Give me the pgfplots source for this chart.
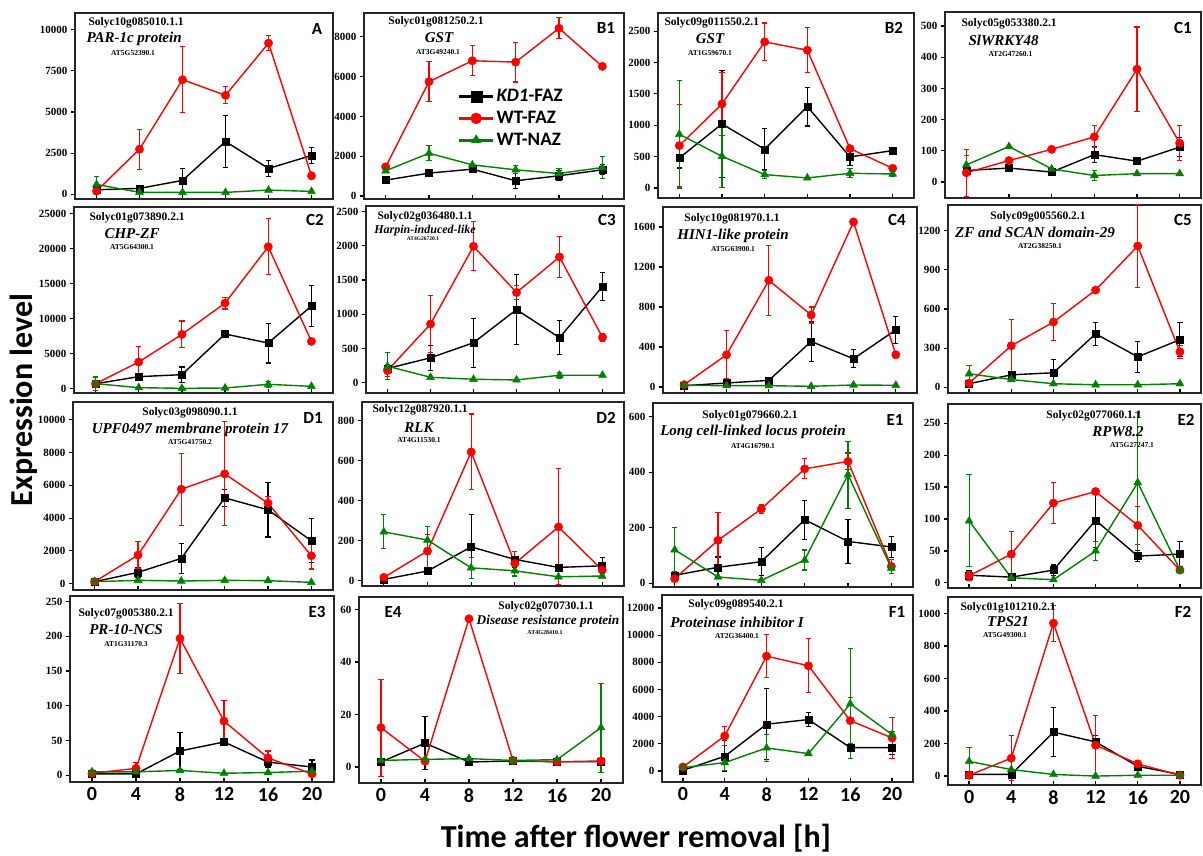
\documentclass[border=0pt]{standalone}
\usepackage{pgfplots}
\pgfplotsset{compat=1.18}
\usepackage{fontspec}
\setmainfont{Liberation Serif}
\newfontfamily\sans{Carlito}
\definecolor{grn}{RGB}{0,128,0}
\newcommand\gid{\fontsize{11.5}{12}\selectfont\bfseries}
\newcommand\gname{\fontsize{15}{16}\selectfont\bfseries\itshape}
\newcommand\atid{\fontsize{7.5}{8}\selectfont\bfseries}
\newcommand\plab{\sans\fontsize{17}{18}\selectfont\bfseries}
\pgfplotsset{
 pnl/.style n args={4}{scale only axis, anchor=north west, at={(#1pt,-#2pt)}, width=#3pt, height=#4pt,
   xmin=-2, xmax=22, xtick={0,4,8,12,16,20}, xticklabels={},
   axis line style={line width=1.6pt, black!85}, tick style={line width=1.2pt, black},
   xtick align=inside, ytick align=outside, tick pos=left, major tick length=4pt,
   scaled y ticks=false, /pgf/number format/1000 sep={}, /pgf/number format/assume math mode=true,
   yticklabel style={font=\fontsize{11}{11}\selectfont\bfseries},
   clip=false},
 bot/.style={xticklabels={0,4,8,12,16,20}, xticklabel style={font=\sans\bfseries\fontsize{20}{20}\selectfont, yshift=-2pt}},
 kd/.style={draw=black, line width=1.4pt, mark=square*, mark size=3.5pt, mark options={solid, fill=black, draw=black, line width=0.4pt},
   error bars/.cd, y dir=both, y explicit, error bar style={line width=1.1pt, draw=black}, error mark options={rotate=90, mark size=2.6pt, line width=1.1pt, draw=black}},
 wf/.style={draw=red, line width=1.4pt, mark=*, mark size=4.2pt, mark options={solid, fill=red, draw=red, line width=0.4pt},
   error bars/.cd, y dir=both, y explicit, error bar style={line width=1.1pt, draw=red}, error mark options={rotate=90, mark size=2.6pt, line width=1.1pt, draw=red}},
 wn/.style={draw=grn, line width=1.4pt, mark=triangle*, mark size=4.6pt, mark options={solid, fill=grn, draw=grn, line width=0.4pt},
   error bars/.cd, y dir=both, y explicit, error bar style={line width=1.1pt, draw=grn}, error mark options={rotate=90, mark size=2.6pt, line width=1.1pt, draw=grn}},
}
\begin{document}
\begin{tikzpicture}
\useasboundingbox (0,0) rectangle (1203pt,-856pt);
% ---------- Row 1 ----------
\begin{axis}[pnl={75}{13}{258}{186}, ymin=-280, ymax=11000, ytick={0,2500,5000,7500,10000}]
\addplot[kd] coordinates {(0,280) +- (0,0) (4,363) +- (0,80) (8,847) +- (0,700) (12,3206) +- (0,1580) (16,1573) +- (0,500) (20,2359) +- (0,470)};
\addplot[wf] coordinates {(0,200) +- (0,0) (4,2742) +- (0,1210) (8,6956) +- (0,2000) (12,6008) +- (0,520) (16,9173) +- (0,450) (20,1129) +- (0,0)};
\addplot[wn] coordinates {(0,605) +- (0,480) (4,121) +- (0,0) (8,121) +- (0,0) (12,121) +- (0,0) (16,262) +- (0,0) (20,181) +- (0,0)};
\end{axis}
\begin{axis}[pnl={364}{13}{260}{186}, ymin=-150, ymax=9200, ytick={0,2000,4000,6000,8000},
  legend style={at={(0.36,0.6)}, anchor=north west, draw=none, fill=none, inner sep=0pt, row sep=4pt, font=\sans\bfseries\fontsize{19}{19}\selectfont},
  legend cell align=left,
  legend image code/.code={\draw[mark repeat=2, mark phase=2, #1, line width=2.8pt, mark size=5.5pt] plot coordinates {(0pt,0pt) (17pt,0pt) (34pt,0pt)};}]
\addplot[kd] coordinates {(0,800) +- (0,0) (4,1150) +- (0,0) (8,1350) +- (0,0) (12,767) +- (0,383) (16,1017) +- (0,250) (20,1317) +- (0,250)};
\addlegendentry{\textit{KD1}-FAZ}
\addplot[wf] coordinates {(0,1467) +- (0,100) (4,5750) +- (0,1000) (8,6800) +- (0,750) (12,6733) +- (0,1000) (16,8433) +- (0,530) (20,6517) +- (0,0)};
\addlegendentry{WT-FAZ}
\addplot[wn] coordinates {(0,1267) +- (0,100) (4,2150) +- (0,370) (8,1567) +- (0,0) (12,1317) +- (0,200) (16,1133) +- (0,250) (20,1433) +- (0,550)};
\addlegendentry{WT-NAZ}
\end{axis}
\begin{axis}[pnl={658}{13}{256}{185}, ymin=-160, ymax=2790, ytick={0,500,1000,1500,2000,2500}]
\addplot[kd] coordinates {(0,479) +- (0,160) (4,1021) +- (0,855) (8,617) +- (0,325) (12,1298) +- (0,310) (16,495) +- (0,130) (20,596) +- (0,0)};
\addplot[wf] coordinates {(0,676) +- (0,660) (4,1340) +- (0,500) (8,2330) +- (0,300) (12,2197) +- (0,360) (16,628) +- (0,40) (20,314) +- (0,0)};
\addplot[wn] coordinates {(0,856) +- (0,857) (4,505) +- (0,500) (8,213) +- (0,60) (12,160) +- (0,0) (16,234) +- (0,70) (20,223) +- (0,40)};
\end{axis}
\begin{axis}[pnl={945}{12}{256}{186}, ymin=-51, ymax=545, ytick={0,100,200,300,400,500}]
\addplot[kd] coordinates {(0,37) +- (0,10) (4,45) +- (0,0) (8,32) +- (0,0) (12,88) +- (0,25) (16,67) +- (0,0) (20,112) +- (0,30)};
\addplot[wf] coordinates {(0,30) +- (0,75) (4,69) +- (0,0) (8,105) +- (0,0) (12,145) +- (0,35) (16,362) +- (0,135) (20,125) +- (0,55)};
\addplot[wn] coordinates {(0,55) +- (0,30) (4,114) +- (0,0) (8,42) +- (0,0) (12,21) +- (0,15) (16,27) +- (0,0) (20,27) +- (0,0)};
\end{axis}
% ---------- Row 2 ----------
\begin{axis}[pnl={74}{207}{259}{186}, ymin=-620, ymax=25950, ytick={0,5000,10000,15000,20000,25000}]
\addplot[kd] coordinates {(0,700) +- (0,0) (4,1714) +- (0,400) (8,2000) +- (0,1100) (12,7806) +- (0,300) (16,6521) +- (0,2850) (20,11805) +- (0,2900)};
\addplot[wf] coordinates {(0,700) +- (0,0) (4,3808) +- (0,2200) (8,7759) +- (0,1900) (12,12233) +- (0,850) (16,20278) +- (0,4000) (20,6759) +- (0,0)};
\addplot[wn] coordinates {(0,714) +- (0,950) (4,143) +- (0,0) (8,50) +- (0,0) (12,95) +- (0,0) (16,619) +- (0,400) (20,333) +- (0,0)};
\end{axis}
\begin{axis}[pnl={366}{206}{258}{187}, ymin=-152, ymax=2583, ytick={0,500,1000,1500,2000,2500}]
\addplot[kd] coordinates {(0,206) +- (0,0) (4,363) +- (0,180) (8,583) +- (0,360) (12,1068) +- (0,510) (16,657) +- (0,250) (20,1406) +- (0,200)};
\addplot[wf] coordinates {(0,176) +- (0,90) (4,857) +- (0,420) (8,1994) +- (0,360) (12,1318) +- (0,100) (16,1837) +- (0,300) (20,661) +- (0,60)};
\addplot[wn] coordinates {(0,240) +- (0,200) (4,78) +- (0,0) (8,49) +- (0,0) (12,39) +- (0,0) (16,108) +- (0,40) (20,108) +- (0,0)};
\end{axis}
\begin{axis}[pnl={663}{207}{254}{186}, ymin=-60, ymax=1799, ytick={0,400,800,1200,1600}]
\addplot[kd] coordinates {(0,13) +- (0,0) (4,40) +- (0,0) (8,66) +- (0,0) (12,455) +- (0,200) (16,282) +- (0,90) (20,571) +- (0,135)};
\addplot[wf] coordinates {(0,23) +- (0,0) (4,322) +- (0,240) (8,1066) +- (0,350) (12,720) +- (0,80) (16,1650) +- (0,0) (20,322) +- (0,30)};
\addplot[wn] coordinates {(0,17) +- (0,0) (4,13) +- (0,0) (8,13) +- (0,0) (12,7) +- (0,0) (16,20) +- (0,0) (20,17) +- (0,0)};
\end{axis}
\begin{axis}[pnl={948}{205}{253}{188}, ymin=-43, ymax=1396, ytick={0,300,600,900,1200}]
\addplot[kd] coordinates {(0,28) +- (0,0) (4,96) +- (0,0) (8,112) +- (0,100) (12,410) +- (0,90) (16,234) +- (0,120) (20,365) +- (0,130)};
\addplot[wf] coordinates {(0,33) +- (0,0) (4,319) +- (0,200) (8,500) +- (0,140) (12,745) +- (0,0) (16,1082) +- (0,320) (20,272) +- (0,50)};
\addplot[wn] coordinates {(0,104) +- (0,65) (4,60) +- (0,0) (8,28) +- (0,0) (12,20) +- (0,0) (16,20) +- (0,0) (20,28) +- (0,0)};
\end{axis}
% ---------- Row 3 ----------
\begin{axis}[pnl={73}{402}{260}{188}, ymin=-386, ymax=11084, ytick={0,2000,4000,6000,8000,10000}]
\addplot[kd] coordinates {(0,122) +- (0,0) (4,690) +- (0,300) (8,1543) +- (0,900) (12,5237) +- (0,530) (16,4506) +- (0,1660) (20,2618) +- (0,1350)};
\addplot[wf] coordinates {(0,122) +- (0,0) (4,1746) +- (0,800) (8,5765) +- (0,2200) (12,6699) +- (0,3170) (16,4913) +- (0,400) (20,1705) +- (0,810)};
\addplot[wn] coordinates {(0,122) +- (0,0) (4,203) +- (0,0) (8,162) +- (0,0) (12,203) +- (0,0) (16,183) +- (0,0) (20,81) +- (0,0)};
\end{axis}
\begin{axis}[pnl={362}{402}{262}{184}, ymin=-28, ymax=893, ytick={0,200,400,600,800}]
\addplot[kd] coordinates {(0,5) +- (0,0) (4,47) +- (0,0) (8,168) +- (0,160) (12,105) +- (0,40) (16,65) +- (0,0) (20,73) +- (0,40)};
\addplot[wf] coordinates {(0,15) +- (0,0) (4,147) +- (0,85) (8,643) +- (0,190) (12,85) +- (0,60) (16,268) +- (0,290) (20,52) +- (0,30)};
\addplot[wn] coordinates {(0,243) +- (0,85) (4,202) +- (0,70) (8,63) +- (0,52) (12,48) +- (0,30) (16,18) +- (0,0) (20,22) +- (0,0)};
\end{axis}
\begin{axis}[pnl={653}{403}{260}{184}, ymin=-13, ymax=649, ytick={0,200,400,600}]
\addplot[kd] coordinates {(0,29) +- (0,0) (4,58) +- (0,37) (8,78) +- (0,50) (12,229) +- (0,70) (16,151) +- (0,79) (20,131) +- (0,38)};
\addplot[wf] coordinates {(0,17) +- (0,0) (4,155) +- (0,100) (8,268) +- (0,15) (12,412) +- (0,36) (16,439) +- (0,30) (20,61) +- (0,25)};
\addplot[wn] coordinates {(0,121) +- (0,80) (4,23) +- (0,0) (8,11) +- (0,0) (12,84) +- (0,36) (16,391) +- (0,120) (20,55) +- (0,0)};
\end{axis}
\begin{axis}[pnl={948}{404}{253}{184}, ymin=-8, ymax=280, ytick={0,50,100,150,200,250}]
\addplot[kd] coordinates {(0,12) +- (0,8) (4,9) +- (0,0) (8,20) +- (0,8) (12,98) +- (0,42) (16,42) +- (0,8) (20,45) +- (0,20)};
\addplot[wf] coordinates {(0,11) +- (0,7) (4,45) +- (0,35) (8,125) +- (0,32) (12,143) +- (0,0) (16,90) +- (0,30) (20,20) +- (0,0)};
\addplot[wn] coordinates {(0,97) +- (0,72) (4,8) +- (0,0) (8,5) +- (0,0) (12,50) +- (0,15) (16,157) +- (0,110) (20,20) +- (0,0)};
\end{axis}
% ---------- Row 4 ----------
\begin{axis}[pnl={70}{596}{264}{186}, bot, ymin=-9.6, ymax=258, ytick={0,50,100,150,200,250}]
\addplot[kd] coordinates {(0,2) +- (0,0) (4,2) +- (0,0) (8,35) +- (0,26) (12,48) +- (0,3) (16,19) +- (0,7) (20,12) +- (0,10)};
\addplot[wf] coordinates {(0,3) +- (0,0) (4,10) +- (0,9) (8,197) +- (0,50) (12,78) +- (0,30) (16,25) +- (0,10) (20,2) +- (0,0)};
\addplot[wn] coordinates {(0,5) +- (0,0) (4,5) +- (0,0) (8,7) +- (0,0) (12,3) +- (0,0) (16,4) +- (0,0) (20,6) +- (0,0)};
\end{axis}
\begin{axis}[pnl={359}{597}{264}{186}, bot, ymin=-6.1, ymax=64.8, ytick={0,20,40,60}]
\addplot[kd] coordinates {(0,1.9) +- (0,0) (4,9.1) +- (0,10) (8,1.9) +- (0,0) (12,2.3) +- (0,0) (16,2) +- (0,0) (20,2) +- (0,0)};
\addplot[wf] coordinates {(0,15) +- (0,18.5) (4,2.2) +- (0,0) (8,56.5) +- (0,0) (12,2.5) +- (0,0) (16,2) +- (0,0) (20,2.3) +- (0,0)};
\addplot[wn] coordinates {(0,2.5) +- (0,0) (4,2.9) +- (0,0) (8,3.2) +- (0,0) (12,2.5) +- (0,0) (16,2.8) +- (0,0) (20,15) +- (0,17)};
\end{axis}
\begin{axis}[pnl={662}{595}{251}{187}, bot, ymin=-812, ymax=12964, ytick={0,2000,4000,6000,8000,10000,12000}]
\addplot[kd] coordinates {(0,50) +- (0,0) (4,1082) +- (0,1150) (8,3444) +- (0,2600) (12,3788) +- (0,500) (16,1722) +- (0,100) (20,1722) +- (0,540)};
\addplot[wf] coordinates {(0,295) +- (0,0) (4,2583) +- (0,700) (8,8462) +- (0,1600) (12,7749) +- (0,2000) (16,3715) +- (0,1700) (20,2435) +- (0,1500)};
\addplot[wn] coordinates {(0,246) +- (0,0) (4,615) +- (0,600) (8,1697) +- (0,1000) (12,1279) +- (0,0) (16,4945) +- (0,4050) (20,2681) +- (0,200)};
\end{axis}
\begin{axis}[pnl={948}{597}{253}{188}, bot, ymin=-55, ymax=1101, ytick={0,200,400,600,800,1000}]
\addplot[kd] coordinates {(0,10) +- (0,0) (4,10) +- (0,0) (8,270) +- (0,150) (12,210) +- (0,40) (16,60) +- (0,15) (20,10) +- (0,0)};
\addplot[wf] coordinates {(0,5) +- (0,0) (4,110) +- (0,140) (8,940) +- (0,110) (12,190) +- (0,185) (16,75) +- (0,20) (20,5) +- (0,0)};
\addplot[wn] coordinates {(0,90) +- (0,85) (4,40) +- (0,0) (8,10) +- (0,0) (12,0) +- (0,0) (16,5) +- (0,0) (20,5) +- (0,0)};
\end{axis}
% ---------- Annotations ----------
\node[anchor=west] at (85pt,-23pt) {\gid Solyc10g085010.1.1};
\node[anchor=west] at (83pt,-39pt) {\gname PAR-1c protein};
\node at (133pt,-53pt) {\atid AT5G52390.1};
\node at (317pt,-29pt) {\plab A};
\node at (436pt,-22pt) {\gid Solyc01g081250.2.1};
\node at (439pt,-38pt) {\gname GST};
\node at (438pt,-52pt) {\atid AT3G49240.1};
\node at (606pt,-28pt) {\plab B1};
\node[anchor=west] at (661pt,-23pt) {\gid Solyc09g011550.2.1};
\node at (710pt,-39pt) {\gname GST};
\node at (710pt,-53pt) {\atid AT1G59670.1};
\node at (894pt,-28pt) {\plab B2};
\node[anchor=west] at (958pt,-24pt) {\gid Solyc05g053380.2.1};
\node[anchor=west] at (965pt,-40pt) {\gname SlWRKY48};
\node[anchor=west] at (985pt,-54pt) {\atid AT2G47260.1};
\node at (1183pt,-28pt) {\plab C1};
\node[anchor=west] at (86pt,-218pt) {\gid Solyc01g073890.2.1};
\node at (132pt,-234pt) {\gname CHP-ZF};
\node at (132pt,-247pt) {\atid AT5G64300.1};
\node at (315pt,-220pt) {\plab C2};
\node[anchor=west] at (374pt,-217pt) {\gid Solyc02g036480.1.1};
\node at (425pt,-231pt) {\fontsize{12}{12}\selectfont\bfseries\itshape Harpin-induced-like};
\node at (423pt,-239pt) {\fontsize{5.5}{6}\selectfont\bfseries AT4G26720.1};
\node at (607pt,-220pt) {\plab C3};
\node at (732pt,-219pt) {\gid Solyc10g081970.1.1};
\node at (733pt,-236pt) {\gname HIN1-like protein};
\node at (733pt,-249pt) {\atid AT5G63900.1};
\node at (897pt,-220pt) {\plab C4};
\node at (1038pt,-217pt) {\gid Solyc09g005560.2.1};
\node at (1035pt,-232pt) {\gname ZF and SCAN domain-29};
\node at (1040pt,-246pt) {\atid AT2G38250.1};
\node at (1183pt,-220pt) {\plab C5};
\node at (190pt,-413pt) {\gid Solyc03g098090.1.1};
\node at (190pt,-430pt) {\gname UPF0497 membrane protein 17};
\node at (190pt,-442pt) {\atid AT5G41750.2};
\node at (313pt,-418pt) {\plab D1};
\node[anchor=west] at (369pt,-410pt) {\gid Solyc12g087920.1.1};
\node at (419pt,-428pt) {\gname RLK};
\node at (419pt,-440pt) {\atid AT4G11530.1};
\node at (606pt,-418pt) {\plab D2};
\node at (750pt,-416pt) {\gid Solyc01g079660.2.1};
\node at (753pt,-432pt) {\gname Long cell-linked locus protein};
\node at (753pt,-446pt) {\atid AT4G16790.1};
\node at (895pt,-420pt) {\plab E1};
\node at (1094pt,-416pt) {\gid Solyc02g077060.1.1};
\node at (1118pt,-432pt) {\gname RPW8.2};
\node at (1132pt,-445pt) {\atid AT5G27247.1};
\node at (1186pt,-420pt) {\plab E2};
\node[anchor=west] at (75pt,-614pt) {\gid Solyc07g005380.2.1};
\node at (126pt,-630pt) {\gname PR-10-NCS};
\node at (126pt,-644pt) {\atid AT1G31170.3};
\node at (317pt,-612pt) {\plab E3};
\node at (393pt,-612pt) {\plab E4};
\node at (546pt,-607pt) {\gid Solyc02g070730.1.1};
\node at (548pt,-621pt) {\fontsize{13.3}{14}\selectfont\bfseries\itshape Disease resistance protein};
\node at (545pt,-633pt) {\fontsize{6}{6}\selectfont\bfseries AT4G28410.1};
\node at (736pt,-605pt) {\gid Solyc09g089540.2.1};
\node at (737pt,-622pt) {\gname Proteinase inhibitor I};
\node at (737pt,-636pt) {\atid AT2G36400.1};
\node at (897pt,-612pt) {\plab F1};
\node[anchor=west] at (957pt,-608pt) {\gid Solyc01g101210.2.1};
\node at (1008pt,-622pt) {\gname TPS21};
\node at (1005pt,-635pt) {\atid AT5G49300.1};
\node at (1183pt,-612pt) {\plab F2};
% axis titles
\node[rotate=90] at (24pt,-400pt) {\sans\bfseries\fontsize{32}{32}\selectfont Expression level};
\node at (636pt,-838pt) {\sans\bfseries\fontsize{32}{32}\selectfont Time after flower removal [h]};
\end{tikzpicture}
\end{document}
